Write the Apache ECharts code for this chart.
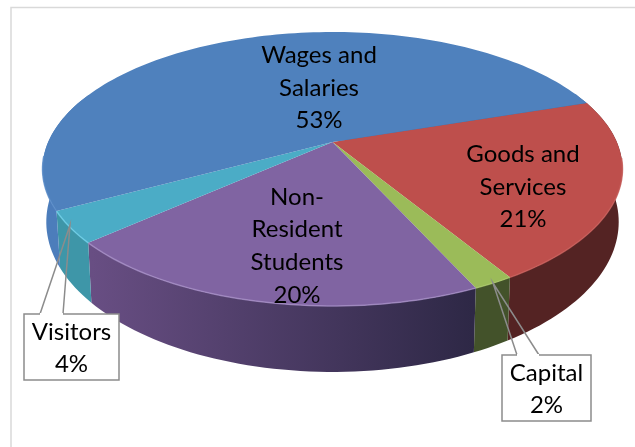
<!DOCTYPE html>
<html><head><meta charset="utf-8">
<style>html,body{margin:0;padding:0;background:#fff}#c{width:635px;height:447px}</style>
<script src="https://cdn.jsdelivr.net/npm/echarts@6/dist/echarts.min.js"></script>
</head><body><div id="c"></div>
<script>
// Data, clockwise from the Goods and Services slice (labels show them rounded)
const categories = ['Goods and\nServices', 'Capital', 'Non-\nResident\nStudents', 'Visitors', 'Wages and\nSalaries'];
const shares = [21.4, 1.9, 20.2, 3.7, 52.8];

// Styles and layout
const topColors = ['#BE4F4C', '#9BBB59', '#8064A2', '#4BACC6', '#4F81BD'];
const rimColors = ['#C85C59', '#A9C768', '#A48CC4', '#6FD0E8', '#5A8CC8'];
const wallLeft = ['#4E1F1F', '#45562A', '#684E83', '#3E96A8', '#4C7DBB'];
const wallRight = ['#542323', '#43522A', '#2E2846', '#3A8FA2', '#42699E'];
const labelAt = [[523, 187], null, [297, 246], null, [319, 88]];
const calloutBox = [null, [502, 355, 89, 66], null, [24, 314, 95, 66], null];
const calloutTail = [null, [[517, 355], [493, 283], [539, 355]], null, [[40, 314], [70, 225], [63, 314]], null];
const startAngle = 71.7;
const k = -0.197, FONT = 'Lato, "Open Sans", sans-serif', FONT_SIZE = 24;

function angles(i) {
  let s = startAngle;
  const tot = shares.reduce((a, b) => a + b, 0);
  for (let j = 0; j < i; j++) s += shares[j] / tot * 360;
  return [s, s + shares[i] / tot * 360];
}
function uv(deg) { const r = deg * Math.PI / 180; return [Math.sin(r), -Math.cos(r)]; }
function topP(deg) { const [u, v] = uv(deg), d = 1 + k * v; return [u / d, 0.961 * v / d]; }
function botP(deg) { const [u, v] = uv(deg), d = 1 + k * v; return [0.987 * u / d, (0.9796 * v + 0.368) / d]; }
function samples(a0, a1) {
  const out = [], n = Math.max(2, Math.ceil((a1 - a0) / 1.5));
  for (let i = 0; i <= n; i++) out.push(a0 + (a1 - a0) * i / n);
  return out;
}
const front = a => uv(a)[1] > -0.4;

const chart = echarts.init(document.getElementById('c'), null, { renderer: 'canvas' });
const seriesData = shares.map((v, i) => [i, v]);

function wallItem(p, api) {
  const i = api.value(0), [a0, a1] = angles(i);
  const ss = samples(a0, a1).filter(front);
  if (ss.length < 2) return { type: 'group', children: [] };
  const pts = ss.map(a => api.coord(topP(a))).concat(ss.slice().reverse().map(a => api.coord(botP(a))));
  return {
    type: 'polygon',
    shape: { points: pts },
    style: {
      fill: new echarts.graphic.LinearGradient(92, 0, 472, 0, [
        { offset: 0, color: wallLeft[i] }, { offset: 1, color: wallRight[i] }], true)
    }
  };
}
function topItem(p, api) {
  const i = api.value(0), [a0, a1] = angles(i);
  const ss = samples(a0, a1);
  const pts = [api.coord([0, 0])].concat(ss.map(a => api.coord(topP(a))));
  const kids = [{ type: 'polygon', shape: { points: pts }, style: { fill: topColors[i] } }];
  const rim = ss.filter(a => uv(a)[1] > 0.1).map(a => api.coord(topP(a)));
  if (rim.length > 1) kids.push({ type: 'polyline', shape: { points: rim }, style: { fill: null, stroke: rimColors[i], lineWidth: 1.5, opacity: 0.8 } });
  return { type: 'group', children: kids };
}
function labelItem(p, api) {
  const i = api.value(0), kids = [];
  const text = categories[i] + '\n' + Math.round(api.value(1)) + '%';
  const box = calloutBox[i];
  if (box) {
    kids.push({ type: 'rect', shape: { x: box[0], y: box[1], width: box[2], height: box[3] },
      style: { fill: '#fff', stroke: '#8C8C8C', lineWidth: 1.5 } });
    kids.push({ type: 'polyline', shape: { points: calloutTail[i] }, style: { fill: null, stroke: '#8C8C8C', lineWidth: 1.5 } });
    const t = calloutTail[i];
    kids.push({ type: 'line', shape: { x1: t[0][0], y1: t[0][1], x2: t[2][0], y2: t[2][1] }, style: { stroke: '#fff', lineWidth: 2 } });
    kids.push({ type: 'text', style: { text, x: box[0] + box[2] / 2, y: box[1] + box[3] / 2 + 1, align: 'center', verticalAlign: 'middle',
      font: FONT_SIZE + 'px ' + FONT, lineHeight: 32, fill: '#000' } });
  } else {
    const at = labelAt[i];
    kids.push({ type: 'text', style: { text, x: at[0], y: at[1], align: 'center', verticalAlign: 'middle',
      font: FONT_SIZE + 'px ' + FONT, lineHeight: 32.7, fill: '#000' } });
  }
  return { type: 'group', children: kids };
}

chart.setOption({
  animation: false,
  backgroundColor: '#fff',
  grid: { left: 48.2, width: 568.6, top: 5, height: 411 },
  xAxis: { type: 'value', min: -1, max: 1, show: false },
  yAxis: { type: 'value', min: -1, max: 2, inverse: true, show: false },
  graphic: [{ type: 'polyline', silent: true, z: -1, shape: { points: [[635, 7.5], [11, 7.5], [11, 447]] },
    style: { fill: null, stroke: '#D9D9D9', lineWidth: 1.5 } }],
  series: [
    { type: 'custom', coordinateSystem: 'cartesian2d', z: 2, data: seriesData, renderItem: wallItem, silent: true },
    { type: 'custom', coordinateSystem: 'cartesian2d', z: 3, data: seriesData, renderItem: topItem, silent: true },
    { type: 'custom', coordinateSystem: 'cartesian2d', z: 4, data: seriesData, renderItem: labelItem, silent: true }
  ]
});
</script></body></html>
